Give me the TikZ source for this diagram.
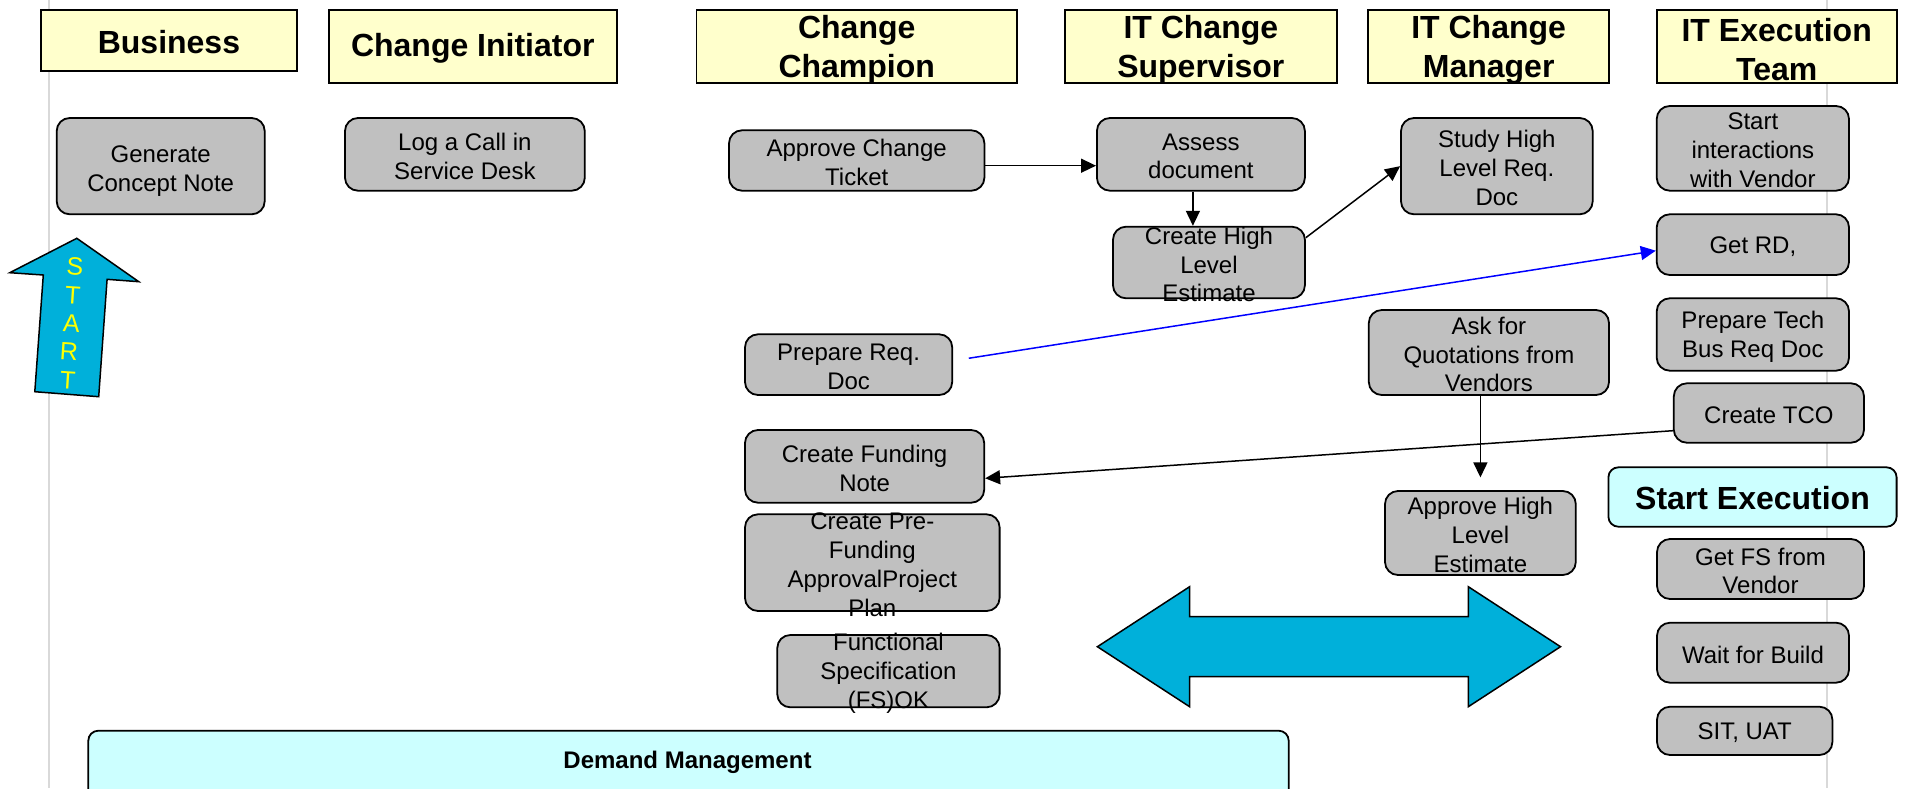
\documentclass[tikz,border=0pt]{standalone}
\usepackage{fontspec}
\setmainfont{Liberation Sans}
\usetikzlibrary{arrows.meta}
\definecolor{hdryellow}{HTML}{FFFFCC}
\definecolor{boxgray}{HTML}{C0C0C0}
\definecolor{lightcyan}{HTML}{CCFFFF}
\definecolor{arrowblue}{HTML}{00B0DA}
\definecolor{laneline}{HTML}{D9D9D9}
\definecolor{startyellow}{HTML}{FFFF00}
% #1 box style, #2 text style, #3 name, #4 x1, #5 y1, #6 x2, #7 y2, #8 text
\newcommand\tbox[8]{%
  \pgfmathsetmacro\tbcx{(#4+#6)/2}%
  \pgfmathsetmacro\tbcy{(#5+#7)/2}%
  \pgfmathsetmacro\tbw{#6-#4}%
  \pgfmathsetmacro\tbh{#7-#5}%
  \node[#1, minimum width=\tbw pt, minimum height=\tbh pt] (#3) at (\tbcx,\tbcy) {};%
  \node[#2] (#3-t) at (#3.center) {#8};%
}
\tikzset{
  box/.style={draw=black, fill=boxgray, rounded corners=13pt, line width=1.8pt, inner sep=0pt},
  hdr/.style={draw=black, fill=hdryellow, line width=1.8pt, inner sep=0pt},
  cyanbox/.style={draw=black, fill=lightcyan, rounded corners=10pt, line width=1.8pt, inner sep=0pt},
  btext/.style={font=\fontsize{24}{28.8}\selectfont, align=center, inner sep=0pt, yshift=-2pt},
  htext/.style={font=\bfseries\fontsize{32}{38.4}\selectfont, align=center, inner sep=0pt, yshift=-3pt},
  dtext/.style={font=\bfseries\fontsize{24}{28.8}\selectfont, align=center, inner sep=0pt},
  starttext/.style={font=\fontsize{25}{30}\selectfont, text=startyellow, inner sep=0pt, rotate=-3.7},
  arr/.style={line width=1.5pt, -{Triangle[length=15pt,width=14pt]}},
  bigarrow/.style={draw=black, fill=arrowblue, line width=1.5pt, line join=miter},
  lane/.style={draw=laneline, line width=2pt}
}
\begin{document}
\begin{tikzpicture}[x=1pt,y=-1pt]
\clip (0,0) rectangle (1906,788);
\fill[white] (0,0) rectangle (1906,788);
% swimlane guide lines
\draw[lane] (49,0) -- (49,788);
\draw[lane] (1826.5,0) -- (1826.5,788);
% headers
\tbox{hdr}{htext, yshift=1.5pt}{hbus}{40.6}{10.3}{297.3}{71}{Business}
\tbox{hdr}{htext, yshift=1.5pt}{hinit}{328.6}{10.3}{617}{83}{Change Initiator}
\tbox{hdr}{htext}{hchamp}{696.5}{10.3}{1017}{83}{Change\\Champion}
\tbox{hdr}{htext}{hsup}{1064.7}{10.3}{1337}{83}{IT Change\\Supervisor}
\tbox{hdr}{htext}{hmgr}{1368.3}{10.3}{1609}{83}{IT Change\\Manager}
\tbox{hdr}{htext}{hexe}{1656.7}{10.3}{1896.7}{83}{IT Execution\\Team}
% process boxes
\tbox{box}{btext, yshift=-3pt}{gen}{56.7}{118}{264.7}{214.3}{Generate\\Concept Note}
\tbox{box}{btext}{log}{345}{118}{584.8}{190.7}{Log a Call in\\Service Desk}
\tbox{box}{btext}{act}{729}{130.3}{984.4}{190.7}{Approve Change\\Ticket}
\tbox{box}{btext}{assess}{1096.9}{118}{1304.9}{190.7}{Assess\\document}
\tbox{box}{btext}{chle}{1113}{226.7}{1304.9}{298.3}{Create High\\Level\\Estimate}
\tbox{box}{btext}{study}{1401}{118}{1592.7}{214.3}{Study High\\Level Req.\\Doc}
\tbox{box}{btext}{sivend}{1656.7}{106}{1849}{190.7}{Start\\interactions\\with Vendor}
\tbox{box}{btext}{getrd}{1656.7}{214.3}{1849}{275}{Get RD,}
\tbox{box}{btext}{prep}{745}{334.3}{952.2}{395}{Prepare Req.\\Doc}
\tbox{box}{btext}{ptech}{1656.7}{298.3}{1849}{370.7}{Prepare Tech\\Bus Req Doc}
\tbox{box}{btext}{askq}{1368.8}{310}{1609}{395}{Ask for\\Quotations from\\Vendors}
\tbox{box}{btext}{tco}{1673.8}{383.3}{1864}{442.7}{Create TCO}
\tbox{box}{btext}{fund}{745}{430}{984.2}{502.7}{Create Funding\\Note}
\tbox{box}{btext}{prefund}{745}{514.3}{999.6}{611}{Create Pre-\\Funding\\ApprovalProject\\Plan}
\tbox{box}{btext}{fs}{777.3}{635}{999.6}{707.3}{Functional\\Specification\\(FS)OK}
\tbox{box}{btext}{ahle}{1385}{491}{1575.8}{575}{Approve High\\Level\\Estimate}
\tbox{cyanbox}{htext, yshift=1.5pt}{startex}{1608.4}{467.3}{1896.6}{526.7}{Start Execution}
\tbox{box}{btext}{getfs}{1657}{539}{1864}{599}{Get FS from\\Vendor}
\tbox{box}{btext}{wait}{1657}{622.7}{1849}{682.7}{Wait for Build}
\tbox{box}{btext}{sit}{1657}{706.7}{1832.4}{755}{SIT, UAT}
% demand management band
\node[cyanbox, minimum width=1200.4pt, minimum height=80pt] (demand) at (688.5,770.7) {};
\node[dtext] (demand-t) at (687.5,762.5) {Demand Management};
% START arrow
\draw[bigarrow] (76.8,238.3) -- (138.8,281.7) -- (107.1,279.3) -- (98.7,396.7)
  -- (34.8,391.7) -- (43.3,275) -- (9.8,272.7) -- cycle;
\node[starttext] (st1) at (75,266.7) {S};
\node[starttext] (st2) at (72.8,295) {T};
\node[starttext] (st3) at (71.4,323) {A};
\node[starttext] (st4) at (69,351.7) {R};
\node[starttext] (st5) at (67.9,380) {T};
% double-headed block arrow
\draw[bigarrow] (1097.4,646.7) -- (1189.6,586.7) -- (1189.6,616.7) -- (1468.3,616.7)
  -- (1468.3,586.7) -- (1560.5,646.7) -- (1468.3,706.7) -- (1468.3,676.7)
  -- (1189.6,676.7) -- (1189.6,706.7) -- cycle;
% connectors
\draw[arr] (act.east |- 0,165.7) -- (assess.west |- 0,165.7);
\draw[arr] ([xshift=-8pt]assess.south) -- ([xshift=-8pt]assess.south |- chle.north);
\draw[arr] (chle.east |- 0,237.7) -- (study.west);
\coordinate (bstart) at ([xshift=15.7pt,yshift=6.4pt]prep.east);
\draw[arr, draw=blue, fill=blue] (bstart) -- (getrd.west |- 0,250.7);
\draw[arr, shorten >=12.7pt] (askq.south -| ahle.north) -- (ahle.north);
\draw[arr] (tco.west |- 0,430.7) -- (fund.east |- 0,478.3);
\end{tikzpicture}
\end{document}
